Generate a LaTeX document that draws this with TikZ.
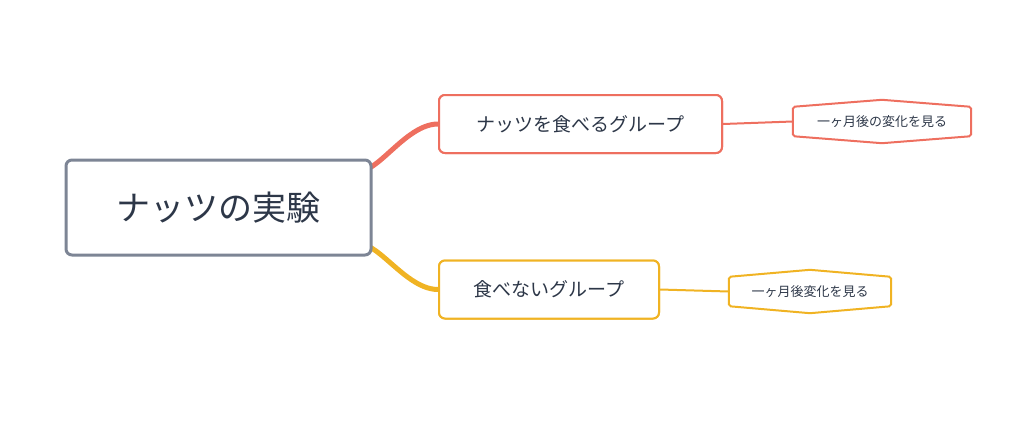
\documentclass[tikz,border=0pt]{standalone}
\usepackage{fontspec}
\setmainfont{Noto Sans CJK JP}
\usetikzlibrary{positioning}
\definecolor{rootgray}{HTML}{7D8595}
\definecolor{inkdark}{HTML}{2D3748}
\definecolor{nutred}{HTML}{EE6F5F}
\definecolor{nutyellow}{HTML}{F0B323}
\tikzset{
  rootbox/.style={draw=rootgray, line width=3pt, rounded corners=6pt, fill=white,
    minimum width=305pt, minimum height=95pt, text=inkdark, font=\fontsize{34}{40}\selectfont},
  groupbox/.style={draw=#1, line width=2pt, rounded corners=6pt, fill=white,
    minimum height=58pt, text=inkdark, font=\fontsize{19}{23}\selectfont},
  leafbox/.style={minimum height=43pt, inner sep=0pt, text=inkdark, font=\fontsize{13}{16}\selectfont},
  branch/.style={draw=#1, line width=5pt},
  twig/.style={draw=#1, line width=2pt}
}
% hexagon outline around a leaf node
\newcommand{\leafoutline}[2]{%
  \draw[#2, line width=2pt, rounded corners=2pt]
    ([yshift=-7pt]#1.north west) -- (#1.north) -- ([yshift=-7pt]#1.north east)
    -- ([yshift=7pt]#1.south east) -- (#1.south) -- ([yshift=7pt]#1.south west) -- cycle;}
\begin{document}
\begin{tikzpicture}[x=1pt, y=-1pt]
  \useasboundingbox (0,0) rectangle (1024,429);

  % branches behind the boxes
  \coordinate (rtop) at (348,162);
  \coordinate (rbot) at (348,253);
  \node[groupbox=nutred, minimum width=283pt] (eat) at (580.5,124) {ナッツを食べるグループ};
  \node[groupbox=nutyellow, minimum width=220pt] (noeat) at (549,289.5) {食べないグループ};
  \draw[branch=nutred] (rtop) to[out=-60, in=180] (eat.west);
  \draw[branch=nutyellow] (rbot) to[out=60, in=180] (noeat.west);

  % root
  \node[rootbox] (root) at (218.5,207.5) {ナッツの実験};
  \node[groupbox=nutred, minimum width=283pt] at (eat) {ナッツを食べるグループ};
  \node[groupbox=nutyellow, minimum width=220pt] at (noeat) {食べないグループ};

  % leaves
  \node[leafbox, minimum width=178pt] (eatleaf) at (882,121.5) {一ヶ月後の変化を見る};
  \node[leafbox, minimum width=162pt] (noeatleaf) at (810,291.5) {一ヶ月後変化を見る};
  \leafoutline{eatleaf}{nutred}
  \leafoutline{noeatleaf}{nutyellow}
  \draw[twig=nutred] (eat.east) -- (eatleaf.west);
  \draw[twig=nutyellow] (noeat.east) -- (noeatleaf.west);
\end{tikzpicture}
\end{document}
